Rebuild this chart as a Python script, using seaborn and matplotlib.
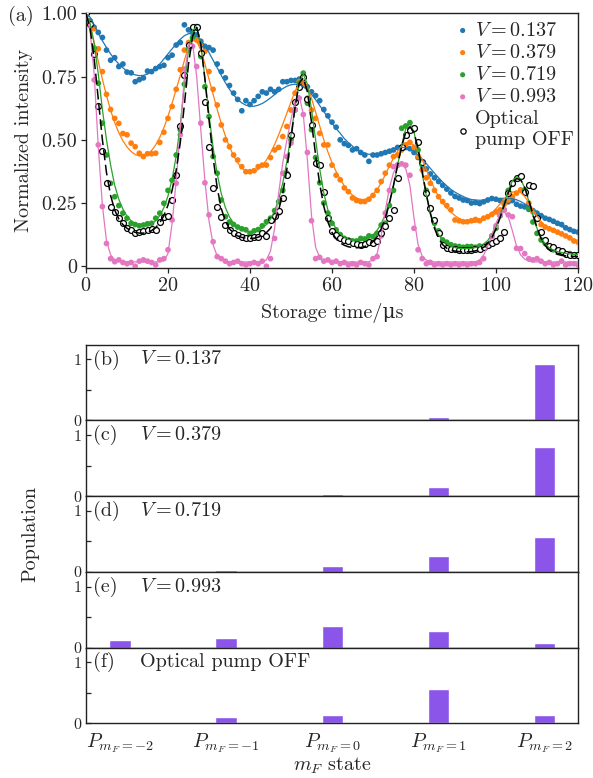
import matplotlib
matplotlib.use("Agg")
import matplotlib.pyplot as plt
import seaborn as sns
import numpy as np
import pandas as pd

# storage time grid (us) for measured points and fitted curves
t = np.arange(0, 121)

# measured normalized intensity
blue_pts = [1.00, 0.97, 0.945, 0.925, 0.905, 0.855, 0.815, 0.825, 0.79, 0.80,
            0.768, 0.765, 0.73, 0.738, 0.745, 0.772, 0.77, 0.782, 0.79, 0.795,
            0.825, 0.835, 0.875, 0.885, 0.955, 0.935, 0.925, 0.915, 0.89, 0.87,
            0.865, 0.855, 0.80, 0.77, 0.745, 0.715, 0.685, 0.66, 0.615, 0.655,
            0.64, 0.655, 0.672, 0.69, 0.685, 0.70, 0.69, 0.70, 0.73, 0.73,
            0.735, 0.735, 0.74, 0.725, 0.71, 0.69, 0.675, 0.655, 0.62, 0.595,
            0.57, 0.55, 0.50, 0.485, 0.478, 0.46, 0.465, 0.45, 0.44, 0.415,
            0.44, 0.44, 0.445, 0.45, 0.455, 0.46, 0.47, 0.47, 0.47, 0.465,
            0.45, 0.43, 0.40, 0.385, 0.365, 0.35, 0.335, 0.32, 0.305, 0.29,
            0.276, 0.27, 0.262, 0.26, 0.25, 0.252, 0.248, 0.255, 0.262, 0.268,
            0.265, 0.26, 0.25, 0.255, 0.26, 0.245, 0.238, 0.235, 0.225, 0.22,
            0.21, 0.20, 0.19, 0.185, 0.178, 0.17, 0.165, 0.152, 0.145, 0.138, 0.135]
orange_pts = [1.00, 0.965, 0.94, 0.86, 0.77, 0.68, 0.62, 0.585, 0.565, 0.525,
              0.52, 0.487, 0.473, 0.447, 0.434, 0.445, 0.445, 0.447, 0.49, 0.53,
              0.585, 0.632, 0.70, 0.777, 0.855, 0.885, 0.90, 0.895, 0.88, 0.85,
              0.77, 0.70, 0.638, 0.559, 0.50, 0.473, 0.44, 0.42, 0.394, 0.374,
              0.374, 0.378, 0.394, 0.40, 0.40, 0.43, 0.46, 0.47, 0.513, 0.553,
              0.618, 0.685, 0.73, 0.717, 0.665, 0.618, 0.585, 0.526, 0.48, 0.48,
              0.40, 0.36, 0.342, 0.31, 0.295, 0.27, 0.26, 0.256, 0.256, 0.265,
              0.28, 0.30, 0.335, 0.368, 0.40, 0.434, 0.44, 0.46, 0.48, 0.49,
              0.47, 0.434, 0.381, 0.35, 0.328, 0.30, 0.275, 0.256, 0.24, 0.223,
              0.183, 0.18, 0.176, 0.176, 0.18, 0.185, 0.18, 0.19, 0.196, 0.205,
              0.215, 0.223, 0.245, 0.262, 0.275, 0.289, 0.302, 0.295, 0.25, 0.215,
              0.185, 0.165, 0.155, 0.148, 0.142, 0.135, 0.128, 0.12, 0.112, 0.10, 0.095]
green_pts = [1.00, 0.97, 0.863, 0.724, 0.566, 0.44, 0.328, 0.275, 0.24, 0.21,
             0.19, 0.17, 0.165, 0.16, 0.163, 0.168, 0.17, 0.19, 0.21, 0.249,
             0.30, 0.34, 0.44, 0.54, 0.72, 0.856, 0.905, 0.948, 0.83, 0.71,
             0.592, 0.434, 0.368, 0.262, 0.196, 0.175, 0.165, 0.155, 0.148, 0.144,
             0.13, 0.14, 0.145, 0.16, 0.176, 0.19, 0.22, 0.255, 0.30, 0.368,
             0.50, 0.618, 0.724, 0.764, 0.645, 0.54, 0.43, 0.33, 0.25, 0.21,
             0.17, 0.144, 0.125, 0.11, 0.104, 0.10, 0.10, 0.11, 0.108, 0.12,
             0.117, 0.13, 0.163, 0.17, 0.24, 0.30, 0.40, 0.546, 0.555, 0.568,
             0.54, 0.46, 0.407, 0.30, 0.223, 0.17, 0.14, 0.104, 0.095, 0.085,
             0.08, 0.078, 0.075, 0.078, 0.078, 0.075, 0.08, 0.078, 0.085, 0.12,
             0.15, 0.20, 0.223, 0.30, 0.33, 0.345, 0.355, 0.302, 0.23, 0.175,
             0.13, 0.104, 0.09, 0.075, 0.065, 0.06, 0.055, 0.05, 0.05, 0.045, 0.045]
pink_pts = [1.00, 0.96, 0.737, 0.48, 0.236, 0.09, 0.03, 0.018, 0.025, 0.015,
            0.01, 0.015, 0.0, 0.02, 0.025, 0.02, 0.015, 0.005, 0.025, 0.03,
            0.065, 0.183, 0.328, 0.52, 0.78, 0.876, 0.87, 0.79, 0.566, 0.33,
            0.203, 0.097, 0.038, 0.03, 0.02, 0.01, 0.015, 0.02, 0.01, 0.005,
            0.01, 0.015, 0.01, 0.02, 0.0, 0.03, 0.11, 0.21, 0.368, 0.434,
            0.487, 0.62, 0.665, 0.60, 0.45, 0.18, 0.03, 0.035, 0.02, 0.025,
            0.015, 0.02, 0.01, 0.015, 0.005, 0.01, 0.005, 0.015, 0.01, 0.005,
            0.03, 0.038, 0.12, 0.21, 0.30, 0.394, 0.40, 0.405, 0.40, 0.36,
            0.15, 0.065, 0.03, 0.01, 0.015, 0.005, 0.01, 0.005, 0.01, 0.005,
            0.01, 0.005, 0.01, 0.005, 0.01, 0.01, 0.015, 0.03, 0.078, 0.117,
            0.16, 0.203, 0.223, 0.203, 0.196, 0.071, 0.07, 0.05, 0.03, 0.025,
            0.03, 0.02, 0.01, 0.015, 0.005, 0.01, 0.02, 0.005, 0.01, 0.01, 0.005]
off_pts = [1.00, 0.96, 0.84, 0.635, 0.455, 0.328, 0.236, 0.215, 0.19, 0.17,
           0.15, 0.144, 0.13, 0.135, 0.14, 0.145, 0.148, 0.145, 0.176, 0.195,
           0.20, 0.262, 0.361, 0.553, 0.757, 0.876, 0.948, 0.945, 0.843, 0.651,
           0.473, 0.309, 0.236, 0.196, 0.163, 0.144, 0.131, 0.125, 0.117, 0.111,
           0.11, 0.115, 0.117, 0.13, 0.12, 0.183, 0.20, 0.22, 0.269, 0.361,
           0.52, 0.65, 0.711, 0.75, 0.66, 0.559, 0.407, 0.40, 0.295, 0.19,
           0.14, 0.124, 0.11, 0.104, 0.098, 0.09, 0.088, 0.085, 0.088, 0.095,
           0.09, 0.10, 0.13, 0.16, 0.19, 0.223, 0.35, 0.473, 0.52, 0.54,
           0.546, 0.493, 0.414, 0.289, 0.23, 0.183, 0.13, 0.084, 0.071, 0.068,
           0.068, 0.066, 0.065, 0.065, 0.066, 0.068, 0.07, 0.075, 0.085, 0.09,
           0.10, 0.11, 0.137, 0.289, 0.33, 0.348, 0.355, 0.295, 0.322, 0.318,
           0.19, 0.135, 0.105, 0.08, 0.075, 0.065, 0.06, 0.05, 0.045, 0.045, 0.045]

# fitted curves
blue_fit = [1.000, 0.985, 0.955, 0.922, 0.892, 0.865, 0.840, 0.818, 0.800, 0.785,
            0.772, 0.763, 0.757, 0.754, 0.755, 0.760, 0.770, 0.783, 0.800, 0.820,
            0.840, 0.860, 0.880, 0.898, 0.912, 0.920, 0.920, 0.912, 0.895, 0.872,
            0.845, 0.815, 0.785, 0.755, 0.726, 0.700, 0.678, 0.660, 0.646, 0.637,
            0.633, 0.633, 0.637, 0.644, 0.654, 0.666, 0.679, 0.692, 0.703, 0.712,
            0.718, 0.720, 0.718, 0.710, 0.697, 0.680, 0.659, 0.636, 0.612, 0.589,
            0.566, 0.545, 0.526, 0.505, 0.489, 0.475, 0.462, 0.452, 0.446, 0.443,
            0.442, 0.444, 0.448, 0.453, 0.459, 0.464, 0.468, 0.470, 0.469, 0.464,
            0.453, 0.440, 0.424, 0.406, 0.387, 0.368, 0.350, 0.333, 0.318, 0.304,
            0.293, 0.284, 0.276, 0.268, 0.264, 0.262, 0.261, 0.261, 0.262, 0.264,
            0.266, 0.268, 0.269, 0.269, 0.267, 0.263, 0.256, 0.247, 0.237, 0.226,
            0.214, 0.202, 0.191, 0.181, 0.172, 0.164, 0.157, 0.150, 0.144, 0.139, 0.135]
orange_fit = [1.000, 0.955, 0.885, 0.810, 0.740, 0.675, 0.617, 0.568, 0.528, 0.496,
              0.472, 0.454, 0.442, 0.436, 0.436, 0.443, 0.458, 0.480, 0.510, 0.548,
              0.593, 0.645, 0.700, 0.755, 0.815, 0.870, 0.898, 0.890, 0.855, 0.800,
              0.740, 0.680, 0.620, 0.565, 0.515, 0.472, 0.437, 0.409, 0.389, 0.377,
              0.372, 0.374, 0.383, 0.398, 0.420, 0.448, 0.482, 0.520, 0.562, 0.606,
              0.650, 0.693, 0.725, 0.735, 0.712, 0.665, 0.610, 0.555, 0.500, 0.452,
              0.410, 0.375, 0.345, 0.318, 0.297, 0.281, 0.270, 0.264, 0.264, 0.270,
              0.283, 0.303, 0.330, 0.362, 0.396, 0.428, 0.455, 0.475, 0.487, 0.489,
              0.478, 0.455, 0.422, 0.383, 0.343, 0.306, 0.275, 0.250, 0.230, 0.214,
              0.200, 0.189, 0.180, 0.175, 0.173, 0.174, 0.178, 0.186, 0.197, 0.211,
              0.228, 0.247, 0.266, 0.282, 0.293, 0.297, 0.292, 0.276, 0.252, 0.225,
              0.199, 0.177, 0.160, 0.148, 0.138, 0.130, 0.123, 0.117, 0.111, 0.106, 0.101]
green_fit = [1.000, 0.960, 0.880, 0.760, 0.620, 0.500, 0.400, 0.320, 0.265, 0.226,
             0.198, 0.180, 0.168, 0.161, 0.158, 0.160, 0.167, 0.180, 0.200, 0.232,
             0.278, 0.345, 0.435, 0.560, 0.715, 0.855, 0.935, 0.945, 0.875, 0.745,
             0.600, 0.470, 0.365, 0.287, 0.232, 0.195, 0.170, 0.154, 0.144, 0.138,
             0.136, 0.137, 0.142, 0.151, 0.165, 0.186, 0.218, 0.265, 0.330, 0.415,
             0.520, 0.630, 0.725, 0.760, 0.720, 0.620, 0.500, 0.385, 0.290, 0.222,
             0.178, 0.148, 0.128, 0.115, 0.107, 0.102, 0.100, 0.101, 0.105, 0.112,
             0.124, 0.142, 0.168, 0.205, 0.255, 0.320, 0.400, 0.480, 0.545, 0.565,
             0.530, 0.455, 0.365, 0.280, 0.210, 0.160, 0.125, 0.102, 0.088, 0.079,
             0.074, 0.071, 0.070, 0.070, 0.071, 0.074, 0.079, 0.088, 0.102, 0.125,
             0.158, 0.200, 0.250, 0.300, 0.338, 0.355, 0.345, 0.310, 0.258, 0.200,
             0.150, 0.112, 0.088, 0.073, 0.064, 0.058, 0.054, 0.051, 0.049, 0.047, 0.046]
pink_fit = [1.000, 0.930, 0.760, 0.470, 0.240, 0.100, 0.045, 0.025, 0.020, 0.018,
            0.017, 0.017, 0.017, 0.017, 0.017, 0.017, 0.017, 0.017, 0.018, 0.022,
            0.050, 0.170, 0.340, 0.540, 0.750, 0.875, 0.880, 0.750, 0.540, 0.340,
            0.180, 0.085, 0.040, 0.025, 0.020, 0.017, 0.017, 0.017, 0.017, 0.017,
            0.017, 0.017, 0.017, 0.018, 0.025, 0.060, 0.150, 0.290, 0.410, 0.500,
            0.580, 0.655, 0.675, 0.600, 0.420, 0.200, 0.075, 0.035, 0.022, 0.018,
            0.017, 0.017, 0.017, 0.017, 0.017, 0.017, 0.017, 0.017, 0.017, 0.018,
            0.025, 0.050, 0.120, 0.220, 0.310, 0.370, 0.400, 0.405, 0.385, 0.320,
            0.190, 0.085, 0.040, 0.024, 0.019, 0.017, 0.017, 0.017, 0.017, 0.017,
            0.017, 0.017, 0.017, 0.017, 0.017, 0.017, 0.025, 0.045, 0.080, 0.125,
            0.170, 0.205, 0.215, 0.195, 0.140, 0.080, 0.045, 0.028, 0.020, 0.017,
            0.017, 0.017, 0.017, 0.017, 0.017, 0.017, 0.017, 0.017, 0.017, 0.017, 0.017]
off_fit = [1.000, 0.940, 0.820, 0.660, 0.500, 0.370, 0.280, 0.222, 0.187, 0.165,
           0.150, 0.140, 0.134, 0.131, 0.131, 0.134, 0.141, 0.153, 0.172, 0.200,
           0.242, 0.300, 0.380, 0.490, 0.640, 0.800, 0.910, 0.945, 0.880, 0.740,
           0.580, 0.430, 0.310, 0.228, 0.178, 0.148, 0.131, 0.120, 0.114, 0.111,
           0.110, 0.111, 0.115, 0.122, 0.133, 0.150, 0.178, 0.222, 0.290, 0.385,
           0.505, 0.630, 0.725, 0.745, 0.690, 0.570, 0.440, 0.325, 0.237, 0.175,
           0.134, 0.108, 0.092, 0.083, 0.077, 0.074, 0.073, 0.074, 0.078, 0.085,
           0.097, 0.117, 0.148, 0.190, 0.248, 0.320, 0.400, 0.475, 0.530, 0.552,
           0.530, 0.465, 0.375, 0.285, 0.208, 0.150, 0.110, 0.085, 0.071, 0.064,
           0.060, 0.058, 0.057, 0.057, 0.058, 0.061, 0.066, 0.075, 0.090, 0.113,
           0.148, 0.192, 0.242, 0.290, 0.328, 0.347, 0.342, 0.312, 0.262, 0.205,
           0.152, 0.110, 0.082, 0.064, 0.053, 0.047, 0.043, 0.041, 0.040, 0.039, 0.039]

series_labels = ["$V=0.137$", "$V=0.379$", "$V=0.719$", "$V=0.993$", "Optical\npump OFF"]
series_colors = ["#1f77b4", "#ff7f0e", "#2ca02c", "#e377c2"]

# populations of the Zeeman sublevels
states = [r"$P_{m_F=-2}$", r"$P_{m_F=-1}$", r"$P_{m_F=0}$", r"$P_{m_F=1}$", r"$P_{m_F=2}$"]
pop_b = [0.0, 0.0, 0.0, 0.056, 0.93]
pop_c = [0.005, 0.005, 0.033, 0.15, 0.80]
pop_d = [0.0, 0.035, 0.10, 0.26, 0.57]
pop_e = [0.128, 0.16, 0.36, 0.28, 0.078]
pop_f = [0.022, 0.105, 0.137, 0.566, 0.137]
panel_tags = ["(b)", "(c)", "(d)", "(e)", "(f)"]
panel_names = ["$V=0.137$", "$V=0.379$", "$V=0.719$", "$V=0.993$", "Optical pump OFF"]

sns.set_style("ticks")
plt.rcParams["font.family"] = ["cmr10", "DejaVu Serif"]
plt.rcParams["mathtext.fontset"] = "cm"
plt.rcParams["axes.formatter.use_mathtext"] = True
plt.rcParams["axes.unicode_minus"] = False
plt.rcParams["axes.linewidth"] = 1.0
plt.rcParams["axes.edgecolor"] = "#222222"

FS = 14.5

W, H = 593, 778
fig = plt.figure(figsize=(W / 100, H / 100), dpi=100)

# ---- panel (a): storage time traces
ax = fig.add_axes([86 / W, 1 - 268 / H, 492 / W, 255.3 / H])
pts = [blue_pts, orange_pts, green_pts, pink_pts]
fits = [blue_fit, orange_fit, green_fit, pink_fit]
for p, c, lab in zip(pts, series_colors, series_labels[:4]):
    sns.scatterplot(x=t, y=p, color=c, s=17, edgecolor="none", label=lab, ax=ax, zorder=3)
sns.scatterplot(x=t, y=off_pts, color="black", facecolor="white", edgecolor="black",
                s=18, linewidth=0.9, label=series_labels[4], ax=ax, zorder=4)
for f, c in zip(fits, series_colors):
    sns.lineplot(x=t, y=f, color=c, lw=0.9, ax=ax, zorder=5)
sns.lineplot(x=t, y=off_fit, color="black", lw=1.1, linestyle=(0, (7, 3)), ax=ax, zorder=6)

ax.set_xlim(0, 120)
ax.set_ylim(-0.007, 1.003)
ax.set_xticks([0, 20, 40, 60, 80, 100, 120])
ax.set_yticks([0, 0.25, 0.5, 0.75, 1.0])
ax.set_yticklabels(["0", "0.25", "0.50", "0.75", "1.00"])
ax.tick_params(direction="out", length=3.5, width=0.9, labelsize=FS, pad=3)
ax.set_xlabel("Storage time/μs", fontsize=FS, labelpad=6)
ax.set_ylabel("Normalized intensity", fontsize=FS, labelpad=6)
for s in ax.spines.values():
    s.set_visible(True)
leg = ax.legend(loc="upper right", bbox_to_anchor=(1.02, 1.02), frameon=False,
                fontsize=FS, handletextpad=0.1, handlelength=1.0,
                labelspacing=0.2, borderaxespad=0.3, markerscale=0.9)
fig.text(8 / W, 1 - 16 / H, "(a)", fontsize=FS, va="center", ha="left")

# ---- panels (b)-(f): populations
pops = [pop_b, pop_c, pop_d, pop_e, pop_f]
panel_h = 75.7
bottom_px = 723.3
for i, (vals, tag, name) in enumerate(zip(pops, panel_tags, panel_names)):
    top_px = bottom_px - (5 - i) * panel_h
    bx = fig.add_axes([86 / W, 1 - (top_px + panel_h) / H, 492.3 / W, panel_h / H])
    df = pd.DataFrame({"state": states, "pop": vals})
    sns.barplot(data=df, x="state", y="pop", order=states, color="#8b55ea",
                saturation=1, width=0.2, errorbar=None, ax=bx)
    bx.set_xlim(-0.32, 4.32)
    bx.set_ylim(0, 1.24)
    bx.set_yticks([0, 0.5, 1])
    bx.set_yticklabels(["0", "", "1"])
    bx.tick_params(axis="y", direction="in", length=3.5, width=0.9, labelsize=11.5, pad=3)
    bx.tick_params(axis="x", length=0, labelsize=FS, pad=6)
    bx.set_xlabel("")
    bx.set_ylabel("")
    for s in bx.spines.values():
        s.set_visible(True)
    if i < 4:
        bx.set_xticklabels([])
    bx.text(0.015, 1.0, tag, transform=bx.get_yaxis_transform(), fontsize=FS, va="center", ha="left")
    bx.text(0.11, 1.0, name, transform=bx.get_yaxis_transform(), fontsize=FS, va="center", ha="left")

fig.text(30 / W, 1 - 534 / H, "Population", fontsize=FS, rotation=90, va="center", ha="center")
fig.text(332 / W, 1 - 766 / H, "$m_F$ state", fontsize=FS, va="center", ha="center")

fig.savefig("out.png", dpi=100)
